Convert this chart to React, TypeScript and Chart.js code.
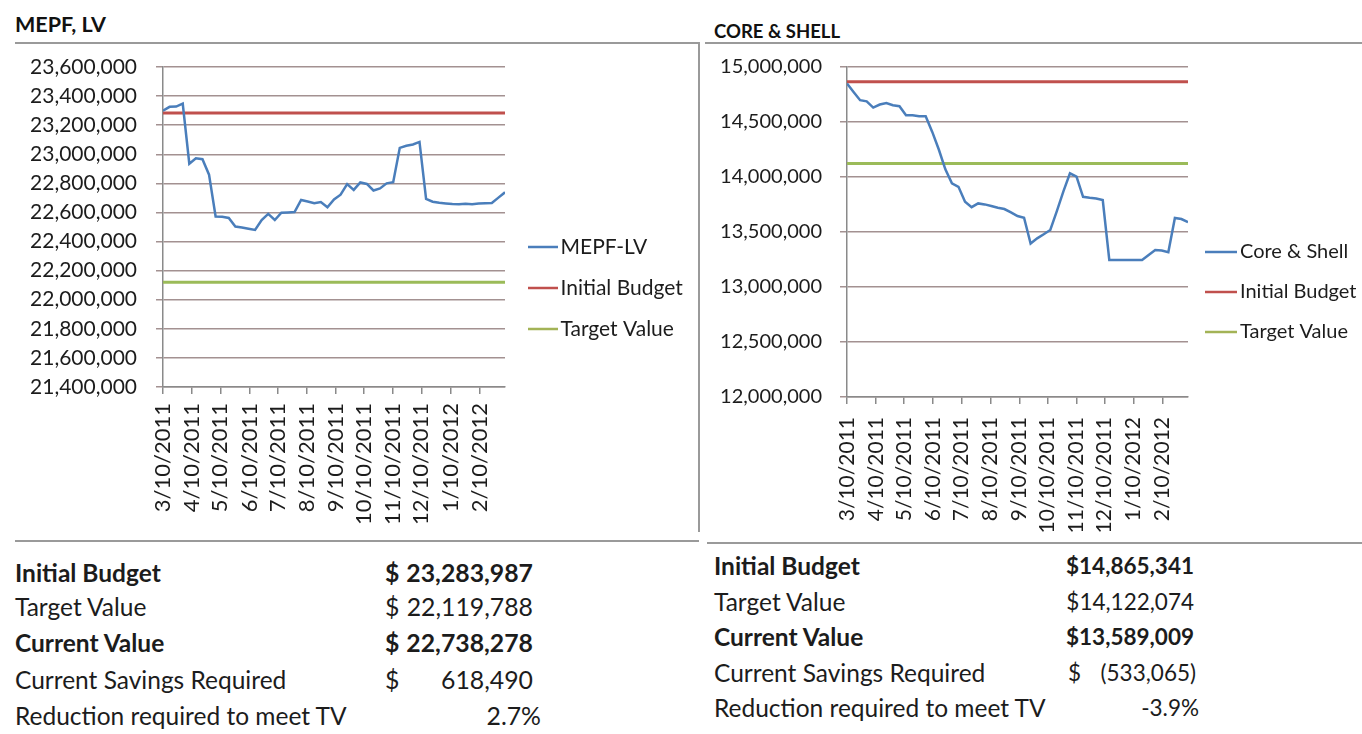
import React, { useEffect, useRef } from 'react';
import { Chart, registerables } from 'chart.js';

Chart.register(...registerables);

const FONT = 'Lato, "Open Sans", sans-serif';
const TEXT = '#1c1c1c';

// ---- data ----
const weekDates = [
  '3/10/2011', '3/17/2011', '3/24/2011', '3/31/2011', '4/7/2011', '4/14/2011', '4/21/2011', '4/28/2011',
  '5/5/2011', '5/12/2011', '5/19/2011', '5/26/2011', '6/2/2011', '6/9/2011', '6/16/2011', '6/23/2011',
  '6/30/2011', '7/7/2011', '7/14/2011', '7/21/2011', '7/28/2011', '8/4/2011', '8/11/2011', '8/18/2011',
  '8/25/2011', '9/1/2011', '9/8/2011', '9/15/2011', '9/22/2011', '9/29/2011', '10/6/2011', '10/13/2011',
  '10/20/2011', '10/27/2011', '11/3/2011', '11/10/2011', '11/17/2011', '11/24/2011', '12/1/2011', '12/8/2011',
  '12/15/2011', '12/22/2011', '12/29/2011', '1/5/2012', '1/12/2012', '1/19/2012', '1/26/2012', '2/2/2012',
  '2/9/2012', '2/16/2012', '2/23/2012', '3/1/2012', '3/8/2012',
];

const monthTickLabels = [
  '3/10/2011', '4/10/2011', '5/10/2011', '6/10/2011', '7/10/2011', '8/10/2011',
  '9/10/2011', '10/10/2011', '11/10/2011', '12/10/2011', '1/10/2012', '2/10/2012',
];

const mepfValues = [
  23300000, 23326000, 23328000, 23349000, 22935000, 22972000, 22966000, 22860000, 22572000, 22570000,
  22562000, 22503000, 22497000, 22488000, 22480000, 22548000, 22590000, 22548000, 22598000, 22600000,
  22603000, 22686000, 22675000, 22663000, 22672000, 22636000, 22690000, 22722000, 22795000, 22755000,
  22806000, 22796000, 22751000, 22765000, 22800000, 22808000, 23044000, 23058000, 23067000, 23085000,
  22693000, 22674000, 22666000, 22662000, 22658000, 22657000, 22660000, 22657000, 22662000, 22664000,
  22665000, 22702000, 22738278,
];

const coreShellValues = [
  14850000, 14773000, 14698000, 14688000, 14631000, 14659000, 14673000, 14652000, 14643000, 14562000,
  14562000, 14553000, 14553000, 14410000, 14250000, 14070000, 13942000, 13911000, 13775000, 13726000,
  13760000, 13751000, 13736000, 13721000, 13709000, 13679000, 13645000, 13630000, 13395000, 13442000,
  13479000, 13518000, 13690000, 13870000, 14033000, 14003000, 13820000, 13811000, 13805000, 13790000,
  13246000, 13246000, 13246000, 13246000, 13246000, 13246000, 13291000, 13337000, 13331000, 13316000,
  13628000, 13618000, 13589009,
];

const mepfInitialBudget = 23283987;
const mepfTargetValue = 22119788;
const coreInitialBudget = 14865341;
const coreTargetValue = 14122074;

const mepfYTicks = { min: 21400000, max: 23600000, step: 200000 };
const coreYTicks = { min: 12000000, max: 15000000, step: 500000 };

const mepfTable = [
  { label: 'Initial Budget', bold: true, cur: '$', val: '23,283,987' },
  { label: 'Target Value', bold: false, cur: '$', val: '22,119,788' },
  { label: 'Current Value', bold: true, cur: '$', val: '22,738,278' },
  { label: 'Current Savings Required', bold: false, cur: '$', val: '618,490' },
  { label: 'Reduction required to meet TV', bold: false, cur: '', val: '2.7%' },
];

const coreTable = [
  { label: 'Initial Budget', bold: true, cur: '', val: '$14,865,341' },
  { label: 'Target Value', bold: false, cur: '', val: '$14,122,074' },
  { label: 'Current Value', bold: true, cur: '', val: '$13,589,009' },
  { label: 'Current Savings Required', bold: false, cur: '$', val: '(533,065)' },
  { label: 'Reduction required to meet TV', bold: false, cur: '', val: '-3.9%' },
];

// ---- helpers ----
function dayIndex(date: string): number {
  const parse = (s: string) => {
    const [m, d, y] = s.split('/').map(Number);
    return Date.UTC(y, m - 1, d);
  };
  return Math.round((parse(date) - parse(weekDates[0])) / 86400000);
}

function legendSwatch(color: string, W: number, a: number, b: number, lw: number) {
  const c = W / 2;
  const half = Math.max(c - a, b - c) + 1;
  const cv = document.createElement('canvas');
  cv.width = Math.ceil(half * 2);
  cv.height = 6;
  const g = cv.getContext('2d')!;
  const off = c - cv.width / 2;
  g.strokeStyle = color;
  g.lineWidth = lw;
  g.beginPath();
  g.moveTo(a - off, 3);
  g.lineTo(b - off, 3);
  g.stroke();
  return cv;
}

type PanelCfg = {
  seriesName: string;
  values: number[];
  initial: number;
  target: number;
  yTicks: { min: number; max: number; step: number };
  fontSize: number;
  xFontSize: number;
  legendFont: number;
  box: { left: number; top: number; width: number; height: number };
  plot: { left: number; top: number; right: number; bottom: number };
  legend: { W: number; a: number; b: number; padding: number; firstRowCenter: number };
  yTickPad: number;
  xTickPad: number;
};

function ChartPanel({ cfg }: { cfg: PanelCfg }) {
  const ref = useRef<HTMLCanvasElement | null>(null);
  useEffect(() => {
    if (!ref.current) return;
    const lastDay = dayIndex(weekDates[weekDates.length - 1]);
    const tickDays = monthTickLabels.map(dayIndex);
    const font = { family: FONT, size: cfg.fontSize };
    const { W, a, b, padding, firstRowCenter } = cfg.legend;
    const legendNames = [cfg.seriesName, 'Initial Budget', 'Target Value'];

    // legend width as Chart.js computes it, so the plot's right edge lands where wanted
    const mctx = document.createElement('canvas').getContext('2d')!;
    mctx.font = `${cfg.legendFont}px ${FONT}`;
    const textW = Math.max(...legendNames.map((t) => mctx.measureText(t).width));
    const legendWidth = 10 + padding + W + cfg.legendFont / 2 + textW;
    const padRight = cfg.box.width - cfg.plot.right - legendWidth;
    // spacer title pushes the first legend row to the wanted height
    const titleGap = firstRowCenter - cfg.legendFont / 2 - padding - cfg.plot.top - 10;

    const chart = new Chart(ref.current, {
      type: 'line',
      data: {
        datasets: [
          {
            label: legendNames[0],
            data: weekDates.map((d, i) => ({ x: dayIndex(d), y: cfg.values[i] })),
            borderColor: '#4a7ebb',
            backgroundColor: '#4a7ebb',
            borderWidth: 2.5,
            pointRadius: 0,
            pointStyle: legendSwatch('#4a7ebb', W, a, b, 2.5) as any,
            tension: 0,
          },
          {
            label: legendNames[1],
            data: [
              { x: 0, y: cfg.initial },
              { x: lastDay, y: cfg.initial },
            ],
            borderColor: '#c0504d',
            backgroundColor: '#c0504d',
            borderWidth: 3,
            pointRadius: 0,
            pointStyle: legendSwatch('#c0504d', W, a, b, 2.5) as any,
          },
          {
            label: legendNames[2],
            data: [
              { x: 0, y: cfg.target },
              { x: lastDay, y: cfg.target },
            ],
            borderColor: '#9bbb59',
            backgroundColor: '#9bbb59',
            borderWidth: 3,
            pointRadius: 0,
            pointStyle: legendSwatch('#a3b356', W, a, b, 2.5) as any,
          },
        ],
      },
      options: {
        animation: false,
        responsive: false,
        maintainAspectRatio: false,
        events: [],
        layout: { padding: { left: 0, top: cfg.plot.top, right: padRight, bottom: 0 } },
        plugins: {
          legend: {
            position: 'right',
            align: 'start',
            maxWidth: legendWidth + 1,
            title: {
              display: true,
              text: ' ',
              font: { family: FONT, size: 10, lineHeight: 1 },
              padding: { top: 0, bottom: titleGap },
            },
            labels: {
              usePointStyle: true,
              pointStyleWidth: W,
              padding,
              color: TEXT,
              font: { family: FONT, size: cfg.legendFont },
            },
          },
          tooltip: { enabled: false },
        },
        scales: {
          x: {
            type: 'linear',
            min: 0,
            max: lastDay,
            bounds: 'data',
            afterBuildTicks: (s: any) => {
              s.ticks = tickDays.map((v) => ({ value: v }));
            },
            afterFit: (s: any) => {
              s.height = cfg.box.height - cfg.plot.bottom;
            },
            ticks: {
              autoSkip: false,
              minRotation: 90,
              maxRotation: 90,
              padding: cfg.xTickPad,
              color: TEXT,
              font: { family: FONT, size: cfg.xFontSize },
              callback: (v: any) => {
                const i = tickDays.indexOf(Number(v));
                return i >= 0 ? monthTickLabels[i] : '';
              },
            },
            grid: { drawOnChartArea: false, drawTicks: true, tickLength: 7, color: '#8a8a8a', lineWidth: 1.5 },
            border: { display: true, color: '#8a8a8a', width: 1.5 },
          },
          y: {
            min: cfg.yTicks.min,
            max: cfg.yTicks.max,
            afterFit: (s: any) => {
              s.width = cfg.plot.left;
              s.paddingTop = 0;
              s.paddingBottom = 0;
            },
            ticks: {
              stepSize: cfg.yTicks.step,
              padding: cfg.yTickPad,
              color: TEXT,
              font,
              callback: (v: any) => Number(v).toLocaleString('en-US'),
            },
            grid: { color: '#a39191', lineWidth: 1.5, tickLength: 7 },
            border: { display: true, color: '#8a8a8a', width: 1.5 },
          },
        },
      } as any,
    });
    return () => chart.destroy();
  }, [cfg]);
  return (
    <canvas
      ref={ref}
      width={cfg.box.width}
      height={cfg.box.height}
      style={{ position: 'absolute', left: cfg.box.left, top: cfg.box.top, width: cfg.box.width, height: cfg.box.height }}
    />
  );
}

// box = canvas placement on the page; plot/legend values are in canvas pixels
const leftCfg: PanelCfg = {
  seriesName: 'MEPF-LV',
  values: mepfValues,
  initial: mepfInitialBudget,
  target: mepfTargetValue,
  yTicks: mepfYTicks,
  fontSize: 21,
  xFontSize: 22,
  legendFont: 21,
  box: { left: 15, top: 45, width: 682, height: 495 },
  plot: { left: 148, top: 22, right: 490, bottom: 342 },
  legend: { W: 25, a: 3, b: 33, padding: 20, firstRowCenter: 202 },
  yTickPad: 19,
  xTickPad: 9,
};

const rightCfg: PanelCfg = {
  seriesName: 'Core & Shell',
  values: coreShellValues,
  initial: coreInitialBudget,
  target: coreTargetValue,
  yTicks: coreYTicks,
  fontSize: 20,
  xFontSize: 21,
  legendFont: 20,
  box: { left: 705, top: 45, width: 672, height: 498 },
  plot: { left: 142, top: 22, right: 483, bottom: 352 },
  legend: { W: 22, a: -3, b: 29, padding: 20, firstRowCenter: 207 },
  yTickPad: 18,
  xTickPad: 13,
};

type Row = { label: string; bold: boolean; cur: string; val: string };

function Table({ rows, left, centers, curX, valRight, labelSize, valueSize }: {
  rows: Row[]; left: number; centers: number[]; curX: number; valRight: number[]; labelSize: number; valueSize: number;
}) {
  return (
    <>
      {rows.map((r, i) => {
        const top = centers[i] - 15;
        const st: React.CSSProperties = {
          position: 'absolute', top, height: 30, lineHeight: '30px',
          fontWeight: r.bold ? 700 : 400, fontFamily: FONT, color: TEXT, whiteSpace: 'nowrap',
        };
        return (
          <React.Fragment key={i}>
            <div style={{ ...st, left, fontSize: labelSize }}>{r.label}</div>
            {r.cur && <div style={{ ...st, left: curX, fontSize: valueSize }}>{r.cur}</div>}
            <div style={{ ...st, right: 1362 - valRight[i], textAlign: 'right', fontSize: valueSize }}>{r.val}</div>
          </React.Fragment>
        );
      })}
    </>
  );
}

export default function App() {
  const line = (l: number, t: number, w: number, h: number) => (
    <div style={{ position: 'absolute', left: l, top: t, width: w, height: h, background: '#9a9a9a' }} />
  );
  return (
    <div style={{ position: 'fixed', left: 0, top: 0, width: 1362, height: 734, background: '#fff', overflow: 'hidden', fontFamily: FONT }}>
      <div style={{ position: 'absolute', left: 15, top: 9, lineHeight: '30px', fontSize: 21.5, fontWeight: 700, color: '#111' }}>MEPF, LV</div>
      <div style={{ position: 'absolute', left: 714, top: 19, lineHeight: '24px', fontSize: 18.5, fontWeight: 700, color: '#111' }}>CORE &amp; SHELL</div>
      {line(15, 42, 684, 2)}
      {line(698, 42, 2, 490)}
      {line(15, 540, 684, 2)}
      {line(705, 42, 657, 2)}
      {line(707, 542, 655, 2)}
      <ChartPanel cfg={leftCfg} />
      <ChartPanel cfg={rightCfg} />
      <Table rows={mepfTable} left={15} centers={[573, 607, 643, 680, 716]} curX={385}
        valRight={[533, 533, 533, 533, 541]} labelSize={24.5} valueSize={24.8} />
      <Table rows={coreTable} left={714} centers={[566, 602, 637, 673, 708]} curX={1068}
        valRight={[1194, 1194, 1194, 1196, 1199]} labelSize={24.5} valueSize={22.5} />
    </div>
  );
}
